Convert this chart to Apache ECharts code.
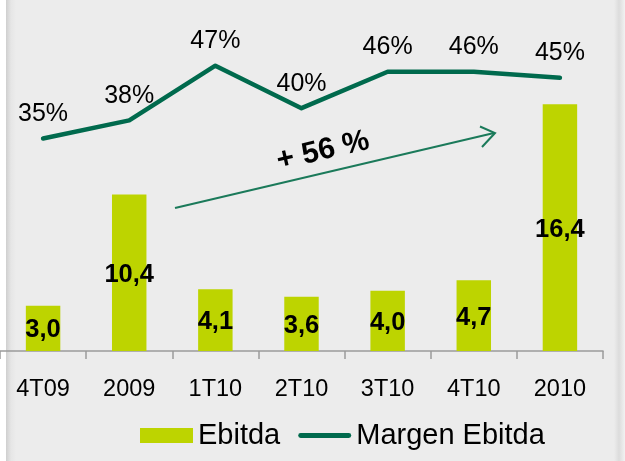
<!DOCTYPE html>
<html>
<head>
<meta charset="utf-8">
<script src="https://cdn.jsdelivr.net/npm/echarts@6/dist/echarts.min.js"></script>
<style>
  html, body { margin: 0; padding: 0; }
  body {
    width: 625px; height: 461px; overflow: hidden;
    background: linear-gradient(to right, #ffffff 0px, #ffffff 6px, #cfcfcf 6px, #e6e6e6 11px, #ececec 16px, #ececec 614px, #dcdcdc 619px, #f2f2f2 625px);
  }
  #chart { width: 625px; height: 461px; }
</style>
</head>
<body>
<div id="chart"></div>
<script>
const categories = ['4T09', '2009', '1T10', '2T10', '3T10', '4T10', '2010'];
const ebitda = [3.0, 10.4, 4.1, 3.6, 4.0, 4.7, 16.4];
const margemEbitda = [35, 38, 47, 40, 46, 46, 45];
const seriesNames = ['Ebitda', 'Margen Ebitda'];
const growthLabel = '+ 56 %';

const FONT = "'Liberation Sans', Arial, sans-serif";
const chart = echarts.init(document.getElementById('chart'), null, { renderer: 'canvas' });

chart.setOption({
  animation: false,
  backgroundColor: 'transparent',
  grid: { left: -1, right: 22, top: 5, bottom: 110, containLabel: false },
  legend: {
    left: 140, top: 421, padding: 0,
    itemWidth: 53, itemHeight: 15, itemGap: 18,
    textStyle: { fontFamily: FONT, fontSize: 29, color: '#000' },
    data: [
      { name: seriesNames[0], icon: 'rect' },
      { name: seriesNames[1], icon: 'path://M2,0 H52 A2,2 0 0 1 52,5 H2 A2,2 0 0 1 2,0 Z', itemStyle: { color: '#006a4d' } }
    ]
  },
  xAxis: {
    type: 'category',
    data: categories,
    axisLine: { show: true, lineStyle: { color: '#9a9a9a', width: 1.5 } },
    axisTick: { show: true, alignWithLabel: false, length: 8, inside: false, lineStyle: { color: '#9a9a9a', width: 1.5 } },
    axisLabel: { margin: 27, fontFamily: FONT, fontSize: 23.5, color: '#000' },
    splitLine: { show: false }
  },
  yAxis: [
    { type: 'value', min: 0, max: 23, show: false, splitLine: { show: false } },
    { type: 'value', min: 0, max: 57, show: false, splitLine: { show: false } }
  ],
  series: [
    {
      name: seriesNames[0],
      type: 'bar',
      data: ebitda,
      barWidth: '40%',
      itemStyle: { color: '#bdd400' },
      label: {
        show: true, position: 'inside', offset: [0, 2],
        fontFamily: FONT, fontSize: 25.5, fontWeight: 'bold', color: '#000',
        formatter: p => p.value.toFixed(1).replace('.', ',')
      }
    },
    {
      name: seriesNames[1],
      type: 'line',
      yAxisIndex: 1,
      data: margemEbitda,
      symbol: 'circle',
      symbolSize: 0.1,
      showSymbol: true,
      lineStyle: { color: '#006a4d', width: 4.5, cap: 'round', join: 'round' },
      itemStyle: { color: '#006a4d' },
      label: {
        show: true, position: 'top', distance: 12,
        fontFamily: FONT, fontSize: 25, color: '#000',
        formatter: p => Math.round(p.value) + '%'
      }
    }
  ],
  graphic: [
    { type: 'line', shape: { x1: 175, y1: 208, x2: 494, y2: 133 },
      style: { stroke: '#1b7a5a', lineWidth: 2 } },
    { type: 'polyline', shape: { points: [[480, 126.5], [495, 133], [482, 147]] },
      style: { stroke: '#1b7a5a', lineWidth: 2, fill: null } },
    { type: 'text', x: 323, y: 151, rotation: 0.23,
      style: { text: growthLabel, fontFamily: FONT, fontSize: 30, fontWeight: 'bold', fill: '#000',
               align: 'center', verticalAlign: 'middle' } }
  ]
});
</script>
</body>
</html>
